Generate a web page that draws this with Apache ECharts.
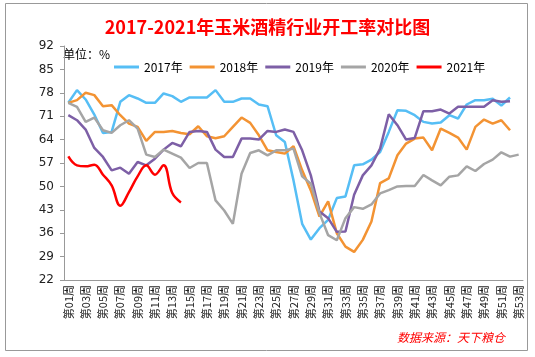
<!DOCTYPE html>
<html><head><meta charset="utf-8">
<script src="https://cdn.jsdelivr.net/npm/echarts@6/dist/echarts.min.js"></script>
<style>html,body{margin:0;padding:0;background:#fff}#c{width:535px;height:357px}</style>
</head><body><div id="c"></div>
<script>
const weeks = ['第01周','第02周','第03周','第04周','第05周','第06周','第07周','第08周','第09周','第10周',
'第11周','第12周','第13周','第14周','第15周','第16周','第17周','第18周','第19周','第20周',
'第21周','第22周','第23周','第24周','第25周','第26周','第27周','第28周','第29周','第30周',
'第31周','第32周','第33周','第34周','第35周','第36周','第37周','第38周','第39周','第40周',
'第41周','第42周','第43周','第44周','第45周','第46周','第47周','第48周','第49周','第50周',
'第51周','第52周','第53周'];
const seriesNames = ['2017年','2018年','2019年','2020年','2021年'];
const s2017 = [75,78.8,76,71.5,66,66.3,75.3,77.3,76.3,75,75,77.8,77,75.3,76.6,76.6,76.6,78.8,75.3,75.3,
76.3,76.3,74.5,74,65.3,63.3,51.8,38.8,34.1,37.5,40,46.5,47,56.3,56.6,58,60.3,66.3,72.8,72.6,
71.3,69.3,68.8,69.1,71.3,70.3,74.5,75.8,75.8,76.2,74.2,76.6];
const s2018 = [75,75.8,78,77.3,74,74.3,71.3,68.8,67.8,63.6,66.3,66.3,66.6,66,65.6,68,65,64.4,65,67.8,
70.6,69,65.3,60.8,60.3,59.8,62,54.8,48.8,41,45.5,36,32,30.4,34,39.5,51,52.4,59.3,62.8,
64.3,64.6,60.8,67.3,66,64.6,61,67.8,70,68.8,69.8,66.8];
const s2019 = [71.3,69.8,67,61.5,58.8,54.8,55.6,53.8,57.3,56.3,58.3,61,63,62,66.3,66.6,66.3,61,58.8,58.8,
64.3,64.3,64,66.6,66.3,67,66.3,60.8,53.3,42.5,40.5,36.4,36.5,47.5,53.3,56.3,61.3,71.6,68.3,64,
64.5,72.5,72.5,73,71.8,73.8,73.8,73.8,73.8,75.8,75.3,75.5];
const s2020 = [75,73.8,69.3,70.6,66.8,66,68.3,69.8,67.3,59.5,58.8,61,59.8,58.6,55.5,57,57,45.8,42.8,38.8,
53.8,60,60.8,59.3,60.8,60.8,61.3,53,50.8,42,35.4,33.9,40.5,43.8,43.3,44.6,47.9,48.9,50,50.1,
50.1,53.4,51.8,50.3,52.9,53.3,56,54.6,56.7,58,60.2,58.9,59.5];
const s2021 = [59,56.3,56,56.5,53.5,50.3,44.2,48.3,53,56.3,53.5,56.3,48,45.2];
const colors = ['#56BEF5','#F39333','#7D5FA6','#A5A5A5','#FF0000'];

const chart = echarts.init(document.getElementById('c'));
const data = [s2017,s2018,s2019,s2020,s2021];
chart.setOption({
  animation:false,
  backgroundColor:'#fff',
  title:{text:'2017-2021年玉米酒精行业开工率对比图',left:'center',top:13,
    textStyle:{color:'#FF0000',fontSize:18,fontWeight:'bold',fontFamily:'Noto Sans CJK SC'}},
  legend:{left:109,top:56,width:420,itemWidth:25,itemHeight:3,icon:'rect',itemGap:7,
    data:seriesNames,
    textStyle:{color:'#000',fontSize:12,fontFamily:'Noto Sans CJK SC'}},
  grid:{left:64,right:12,top:46,bottom:77,containLabel:false},
  xAxis:{type:'category',data:weeks,boundaryGap:true,
    axisLine:{lineStyle:{color:'#999',width:1}},
    axisTick:{interval:0,length:4,lineStyle:{color:'#999'}},
    axisLabel:{interval:1,rotate:90,fontSize:11,color:'#222',margin:5,fontFamily:'Noto Sans CJK SC'}},
  yAxis:{type:'value',min:22,max:92,interval:7,
    axisLine:{show:true,lineStyle:{color:'#999'}},
    axisTick:{show:true,length:4,lineStyle:{color:'#999'}},
    splitLine:{show:false},
    axisLabel:{fontSize:12,color:'#222',margin:10,fontFamily:'DejaVu Sans'}},
  graphic:[
    {type:'rect',shape:{x:5.5,y:3.5,width:522,height:347},style:{fill:'none',stroke:'#999',lineWidth:1},silent:true},
    {type:'text',left:63,top:48,style:{text:'单位：%',fontSize:12,fill:'#000',fontFamily:'Noto Sans CJK SC'}},
    {type:'text',right:30,top:331,style:{text:'数据来源：天下粮仓',fontSize:12,fill:'#FF0000',fontStyle:'italic',fontFamily:'Noto Sans CJK SC'}}
  ],
  series:data.map((d,i)=>({name:seriesNames[i],type:'line',data:d,symbol:'none',
    smooth:i===4?0.4:false,
    lineStyle:{color:colors[i],width:2.5},itemStyle:{color:colors[i]},z:i===4?5:2}))
});
</script></body></html>
